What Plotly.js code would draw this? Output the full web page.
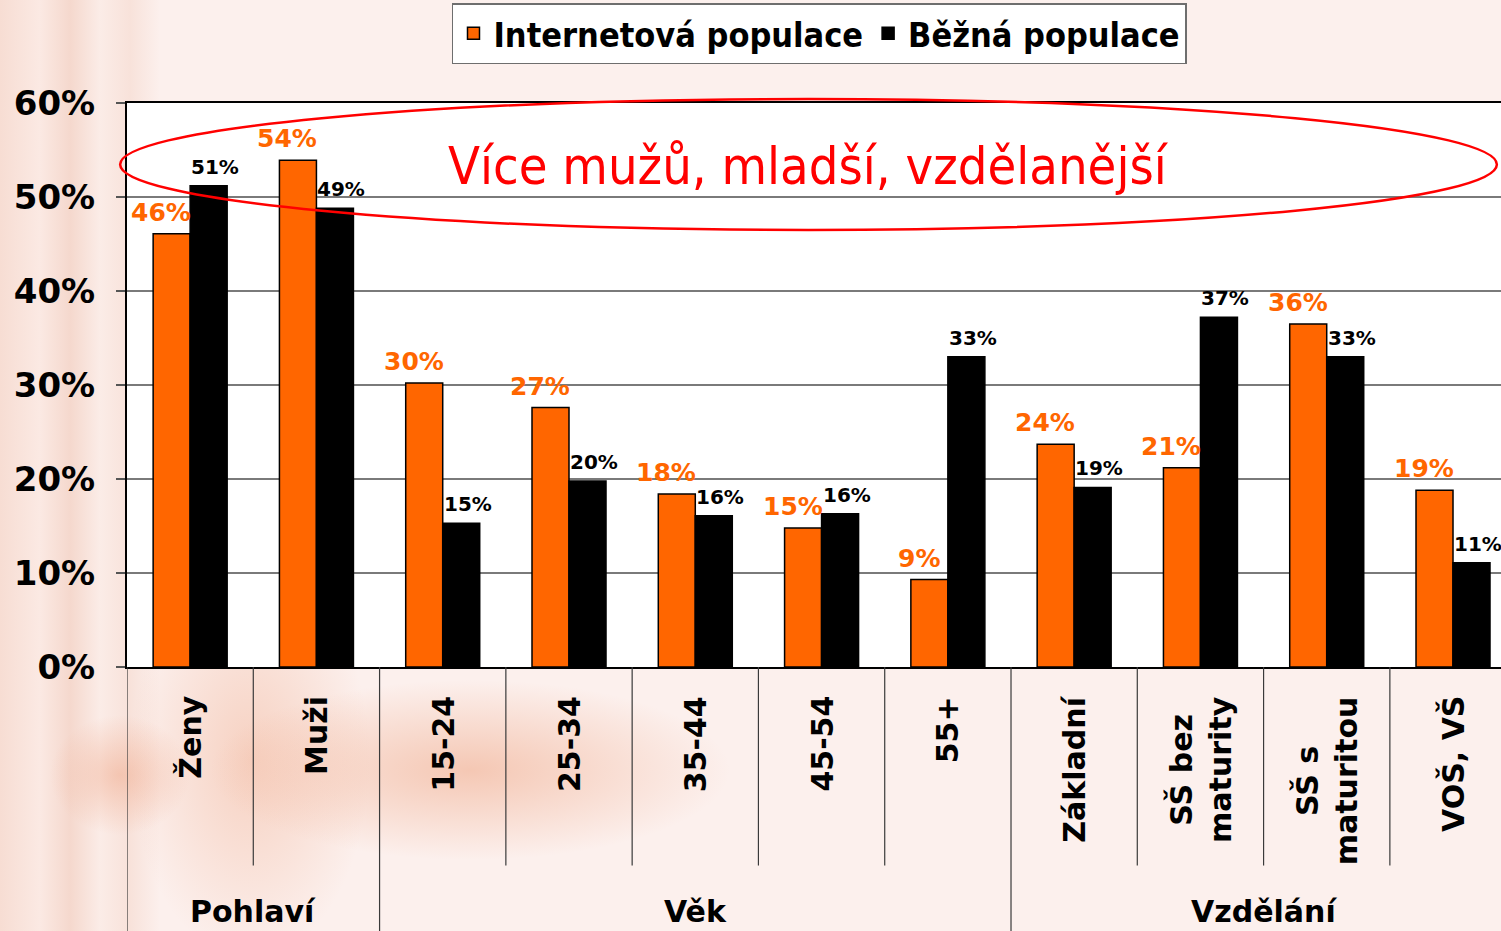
<!DOCTYPE html>
<html>
<head>
<meta charset="utf-8">
<script src="https://cdn.plot.ly/plotly-3.0.1.min.js"></script>
<style>
  html, body { margin: 0; padding: 0; width: 1501px; height: 931px; overflow: hidden; }
  body {
    background:
      radial-gradient(ellipse 70px 60px at 120px 775px, rgba(240,170,140,0.55), rgba(240,170,140,0) 100%),
      radial-gradient(ellipse 260px 90px at 470px 770px, rgba(236,150,110,0.45), rgba(236,150,110,0) 100%),
      radial-gradient(ellipse 120px 200px at 250px 760px, rgba(236,150,110,0.35), rgba(236,150,110,0) 100%),
      linear-gradient(to right, #f7ddd3 0px, #fbe9e3 40px, #f5d8cd 70px, #fbece7 100px, #f8e2da 130px, #fcf0ed 160px, #fcf0ed 100%);
  }
  #chart { width: 1501px; height: 931px; }
</style>
</head>
<body>
<div id="chart"></div>
<script>
// ---- data ----
const categories = ['Ženy', 'Muži', '15-24', '25-34', '35-44', '45-54', '55+', 'Základní', 'SŠ bez<br>maturity', 'SŠ s<br>maturitou', 'VOŠ, VŠ'];
const internetValues = [46.1, 53.9, 30.2, 27.6, 18.4, 14.8, 9.3, 23.7, 21.2, 36.5, 18.8];
const internetLabels = ['46%', '54%', '30%', '27%', '18%', '15%', '9%', '24%', '21%', '36%', '19%'];
const bezneValues = [51.2, 48.8, 15.3, 19.8, 16.1, 16.3, 33.0, 19.1, 37.2, 33.0, 11.1];
const bezneLabels = ['51%', '49%', '15%', '20%', '16%', '16%', '33%', '19%', '37%', '33%', '11%'];
const seriesNames = ['Internetová populace', 'Běžná populace'];
const groupNames = ['Pohlaví', 'Věk', 'Vzdělání'];
const groupStart = [0, 2, 7];
const groupEnd = [1, 6, 10];
const yTicks = [0, 10, 20, 30, 40, 50, 60];
const calloutText = 'Více mužů, mladší, vzdělanější';

const ORANGE = '#ff6600';
const FONT = 'DejaVu Sans, Verdana, sans-serif';
const FONT_C = 'DejaVu Sans Condensed, DejaVu Sans, sans-serif';

const traces = [
  {
    type: 'bar', name: seriesNames[0], x: categories, y: internetValues,
    marker: { color: ORANGE, line: { color: '#000', width: 1.5 } },
    hoverinfo: 'skip'
  },
  {
    type: 'bar', name: seriesNames[1], x: categories, y: bezneValues,
    marker: { color: '#000000', line: { color: '#000', width: 1.5 } },
    hoverinfo: 'skip'
  }
];

// separators below the axis
const shapes = [];
const groupBoundaries = groupStart.map(s => s - 0.5).concat([groupEnd[groupEnd.length - 1] + 0.5]);
for (let i = 0; i <= categories.length; i++) {
  const xb = i - 0.5;
  const isGroup = groupBoundaries.includes(xb);
  shapes.push({
    type: 'line', xref: 'x', yref: 'paper', x0: xb, x1: xb, y0: 0, y1: isGroup ? -0.47 : -0.352,
    line: { color: '#3a3a3a', width: 1.2 }, layer: 'above'
  });
}
// callout ellipse
shapes.push({
  type: 'circle', xref: 'paper', yref: 'paper', x0: -0.005, x1: 0.997, y0: 0.775, y1: 1.007,
  line: { color: '#ff0000', width: 2.5 }, layer: 'above'
});

const annotations = [];
// value labels (series offset left / right of the group centre)
categories.forEach((c, i) => {
  annotations.push({
    xref: 'x', yref: 'y', x: c, y: internetValues[i], text: internetLabels[i],
    showarrow: false, xanchor: 'center', yanchor: 'bottom', xshift: -29, yshift: 5,
    font: { family: FONT, size: 25, color: ORANGE, weight: 'bold' }
  });
  annotations.push({
    xref: 'x', yref: 'y', x: c, y: bezneValues[i], text: bezneLabels[i],
    showarrow: false, xanchor: 'center', yanchor: 'bottom', xshift: 25, yshift: 5,
    font: { family: FONT, size: 20, color: '#000', weight: 'bold' }
  });
  // category labels, rotated, centred lines
  annotations.push({
    xref: 'x', yref: 'paper', x: c, y: 0, text: c, showarrow: false,
    textangle: -90, xanchor: 'center', yanchor: 'top', yshift: -27, align: 'center',
    font: { family: FONT, size: 30, color: '#000', weight: 'bold' }
  });
});
groupNames.forEach((g, k) => annotations.push({
  xref: 'x', yref: 'paper', x: (groupStart[k] + groupEnd[k]) / 2, y: -0.434,
  text: g, showarrow: false, xanchor: 'center', yanchor: 'middle',
  font: { family: FONT, size: 30, color: '#000', weight: 'bold' }
}));
annotations.push({
  xref: 'paper', yref: 'paper', x: 0.496, y: 0.889, text: calloutText, showarrow: false,
  xanchor: 'center', yanchor: 'middle',
  font: { family: FONT_C, size: 52, color: '#ff0000' }
});

const layout = {
  width: 1501, height: 931,
  margin: { l: 127, r: 0, t: 103, b: 264, autoexpand: false },
  paper_bgcolor: 'rgba(0,0,0,0)',
  plot_bgcolor: '#ffffff',
  barmode: 'group', bargap: 0.414, bargroupgap: 0,
  showlegend: true,
  legend: {
    orientation: 'h', x: 0.504, xanchor: 'center', y: 1.177, yanchor: 'top',
    bgcolor: '#ffffff', bordercolor: '#6e6e6e', borderwidth: 1.5,
    font: { family: FONT_C, size: 34, color: '#000', weight: 'bold' },
    itemwidth: 30, tracegroupgap: 0, traceorder: 'normal'
  },
  xaxis: {
    type: 'category', range: [-0.5, 10.38], fixedrange: true,
    showline: true, linecolor: '#000', linewidth: 2, mirror: true,
    ticks: '', showticklabels: false, showgrid: false
  },
  yaxis: {
    range: [0, 60], tickvals: yTicks, ticktext: yTicks.map(v => v + '%'), fixedrange: true,
    showline: true, linecolor: '#000', linewidth: 2,
    ticks: 'outside', ticklen: 9, tickcolor: '#555', tickwidth: 1.5,
    ticklabelstandoff: 14,
    tickfont: { family: FONT, size: 34, color: '#000', weight: 'bold' },
    showgrid: true, gridcolor: '#7a7a7a', gridwidth: 1.5,
    zeroline: false
  },
  shapes: shapes,
  annotations: annotations
};

Plotly.newPlot('chart', traces, layout, { displayModeBar: false, staticPlot: true });
</script>
</body>
</html>
